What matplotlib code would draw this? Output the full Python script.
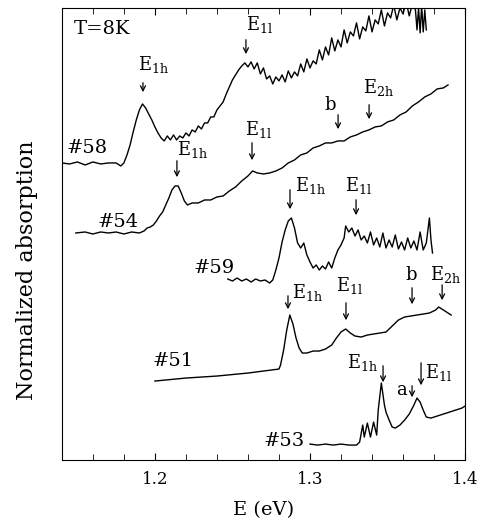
import matplotlib
matplotlib.use("Agg")
import matplotlib.pyplot as plt
from matplotlib.ticker import MultipleLocator

plt.rcParams['font.family'] = 'DejaVu Serif'
plt.rcParams['mathtext.fontset'] = 'dejavuserif'

# spectra, E in eV and absorption in arbitrary (offset) units
e58 = [1.140, 1.145, 1.150, 1.155, 1.160, 1.165, 1.170, 1.175, 1.178, 1.180,
       1.182, 1.184, 1.186, 1.188, 1.190, 1.192, 1.194, 1.196, 1.198, 1.200,
       1.202, 1.204, 1.206, 1.208, 1.210, 1.212, 1.214, 1.216, 1.218, 1.220,
       1.222, 1.224, 1.226, 1.228, 1.230, 1.232, 1.234, 1.236, 1.238, 1.240,
       1.242, 1.244, 1.246, 1.248, 1.250, 1.252, 1.254, 1.256, 1.258, 1.260,
       1.262, 1.264, 1.266, 1.268, 1.270, 1.272, 1.274, 1.276, 1.278, 1.280,
       1.282, 1.284, 1.286, 1.288, 1.290, 1.292, 1.294, 1.296, 1.298, 1.300,
       1.302, 1.304, 1.306, 1.308, 1.310, 1.312, 1.314, 1.316, 1.318, 1.320,
       1.322, 1.324, 1.326, 1.328, 1.330, 1.332, 1.334, 1.336, 1.338, 1.340,
       1.342, 1.344, 1.346, 1.348, 1.350, 1.352, 1.354, 1.356, 1.358, 1.360,
       1.362, 1.364, 1.366, 1.368, 1.369, 1.370, 1.371, 1.372, 1.373, 1.374,
       1.375]
a58 = [297, 296, 298, 295, 298, 296, 297, 297, 294, 297,
       305, 315, 328, 340, 350, 356, 352, 346, 340, 333,
       327, 322, 319, 324, 320, 325, 320, 324, 322, 327,
       324, 330, 328, 334, 331, 337, 337, 343, 343, 350,
       354, 358, 366, 373, 380, 385, 390, 394, 397, 393,
       398, 391, 397, 386, 392, 381, 384, 376, 383, 379,
       385, 378, 389, 382, 388, 384, 396, 388, 401, 392,
       399, 396, 410, 400, 413, 405, 422, 409, 420, 413,
       430, 417, 428, 424, 437, 421, 433, 429, 444, 428,
       440, 436, 450, 434, 447, 442, 455, 440, 452, 446,
       458, 444, 456, 450, 430, 452, 427, 454, 428, 450,
       430]

e54 = [1.149, 1.155, 1.160, 1.165, 1.170, 1.175, 1.180, 1.185, 1.190, 1.193,
       1.195, 1.197, 1.199, 1.201, 1.203, 1.205, 1.207, 1.209, 1.211, 1.213,
       1.215, 1.217, 1.219, 1.221, 1.224, 1.228, 1.232, 1.236, 1.240, 1.244,
       1.248, 1.252, 1.256, 1.260, 1.263, 1.266, 1.270, 1.274, 1.278, 1.282,
       1.286, 1.290, 1.294, 1.298, 1.302, 1.306, 1.310, 1.314, 1.318, 1.322,
       1.326, 1.330, 1.334, 1.338, 1.342, 1.346, 1.350, 1.354, 1.358, 1.362,
       1.366, 1.370, 1.374, 1.378, 1.382, 1.386, 1.388, 1.389]
a54 = [227, 228, 226, 228, 227, 228, 226, 228, 227, 229,
       232, 233, 235, 239, 244, 248, 255, 262, 270, 274,
       274, 267, 259, 255, 257, 257, 260, 260, 263, 264,
       269, 273, 279, 284, 289, 287, 286, 287, 289, 292,
       297, 300, 305, 307, 312, 314, 317, 317, 319, 319,
       323, 325, 328, 330, 333, 334, 338, 340, 345, 348,
       354, 358, 363, 366, 371, 372, 374, 375]

e59 = [1.247, 1.250, 1.253, 1.256, 1.259, 1.262, 1.265, 1.268, 1.271, 1.274,
       1.276, 1.278, 1.280, 1.282, 1.284, 1.286, 1.288, 1.290, 1.292, 1.294,
       1.296, 1.298, 1.300, 1.302, 1.304, 1.306, 1.308, 1.310, 1.312, 1.314,
       1.316, 1.318, 1.320, 1.322, 1.323, 1.325, 1.327, 1.329, 1.331, 1.333,
       1.335, 1.337, 1.339, 1.341, 1.343, 1.345, 1.347, 1.349, 1.351, 1.353,
       1.355, 1.357, 1.359, 1.361, 1.363, 1.365, 1.367, 1.369, 1.371, 1.373,
       1.375, 1.377, 1.378, 1.379]
a59 = [181, 179, 182, 179, 181, 178, 181, 179, 180, 177,
       180, 190, 202, 218, 230, 239, 242, 232, 217, 212,
       217, 205, 198, 192, 195, 190, 194, 191, 198, 192,
       202, 210, 215, 222, 234, 228, 232, 224, 230, 220,
       224, 217, 228, 215, 222, 213, 227, 212, 220, 213,
       225, 211, 218, 210, 222, 212, 219, 210, 228, 210,
       217, 242, 220, 207]

e51 = [1.200, 1.220, 1.240, 1.260, 1.280, 1.281, 1.283, 1.285, 1.287, 1.289,
       1.291, 1.293, 1.295, 1.298, 1.302, 1.306, 1.310, 1.314, 1.317, 1.320,
       1.323, 1.326, 1.329, 1.333, 1.337, 1.341, 1.345, 1.349, 1.353, 1.357,
       1.361, 1.365, 1.369, 1.373, 1.377, 1.381, 1.383, 1.385, 1.388, 1.391]
a51 = [79, 82, 84, 87, 91, 95, 110, 130, 145, 136,
       122, 112, 107, 107, 109, 109, 111, 115, 122, 128,
       131, 127, 124, 123, 125, 126, 127, 128, 134, 140,
       143, 144, 145, 146, 147, 150, 153, 151, 148, 145]

e53 = [1.300, 1.305, 1.310, 1.315, 1.320, 1.325, 1.330, 1.332, 1.334, 1.335,
       1.337, 1.339, 1.341, 1.343, 1.344, 1.346, 1.348, 1.349, 1.351, 1.353,
       1.355, 1.358, 1.361, 1.364, 1.367, 1.369, 1.371, 1.373, 1.375, 1.378,
       1.382, 1.386, 1.390, 1.394, 1.398, 1.400]
a53 = [16, 15, 16, 15, 16, 15, 15, 18, 35, 23,
       37, 23, 38, 25, 50, 77, 55, 48, 40, 33,
       32, 35, 40, 46, 55, 62, 58, 50, 43, 42,
       44, 46, 48, 50, 52, 54]

# sample names and where they are written
samples = ['#58', '#54', '#59', '#51', '#53']
sample_x = [1.156, 1.176, 1.238, 1.212, 1.283]
sample_y = [312, 238, 192, 99, 19]

# arrows: energy, top, tip and the label with its position
arrow_e = [1.1923, 1.2587, 1.2142, 1.2626, 1.3181, 1.3381, 1.2871, 1.3297,
           1.2858, 1.3232, 1.3658, 1.3852, 1.3471, 1.3658, 1.3716]
arrow_top = [380, 423, 302, 320, 348, 358, 273, 263, 167, 160, 175, 178, 97, 77, 100]
arrow_tip = [365, 403, 280, 297, 328, 338, 248, 242, 148, 137, 153, 157, 75, 60, 72]
arrow_lab = ['E$_{\\rm 1h}$', 'E$_{\\rm 1l}$', 'E$_{\\rm 1h}$', 'E$_{\\rm 1l}$', 'b',
             'E$_{\\rm 2h}$', 'E$_{\\rm 1h}$', 'E$_{\\rm 1l}$', 'E$_{\\rm 1h}$',
             'E$_{\\rm 1l}$', 'b', 'E$_{\\rm 2h}$', 'E$_{\\rm 1h}$', 'a', 'E$_{\\rm 1l}$']
lab_x = [1.1994, 1.2677, 1.2245, 1.2671, 1.3129, 1.3439, 1.3006, 1.3310,
         1.2987, 1.3258, 1.3652, 1.3877, 1.3342, 1.3587, 1.3826]
lab_y = [395, 435, 310, 330, 355, 372, 274, 274, 168, 175, 185, 186, 98, 70, 88]

fig = plt.figure(figsize=(4.87, 5.27), dpi=100)
ax = fig.add_axes([0.127, 0.127, 0.828, 0.858])

for e, a in [(e58, a58), (e54, a54), (e59, a59), (e51, a51), (e53, a53)]:
    ax.plot(e, a, color='black', lw=1.0)

for s, x, y in zip(samples, sample_x, sample_y):
    ax.text(x, y, s, fontsize=14, ha='center', va='center')

for x, yt, yb, lab, lx, ly in zip(arrow_e, arrow_top, arrow_tip, arrow_lab, lab_x, lab_y):
    ax.annotate('', xy=(x, yb), xytext=(x, yt),
                arrowprops=dict(arrowstyle='->', lw=0.9, color='black', mutation_scale=9))
    ax.text(lx, ly, lab, fontsize=13, ha='center', va='center')

ax.text(1.1658, 431, 'T=8K', fontsize=14, ha='center', va='center')

ax.set_xlim(1.14, 1.4)
ax.set_ylim(0, 452)
ax.xaxis.set_minor_locator(MultipleLocator(0.02))
ax.set_xticks([1.2, 1.3, 1.4])
ax.set_xticklabels(['1.2', '1.3', '1.4'])
ax.tick_params(axis='x', which='both', direction='in', top=True, labelsize=12, pad=8)
ax.tick_params(axis='x', which='major', length=5)
ax.tick_params(axis='x', which='minor', length=4)
ax.set_yticks([])
ax.set_xlabel('E (eV)', fontsize=14, labelpad=9)
ax.set_ylabel('Normalized absorption', fontsize=16)
ax.yaxis.set_label_coords(-0.06, 0.42)

plt.savefig('out.png', dpi=100)
